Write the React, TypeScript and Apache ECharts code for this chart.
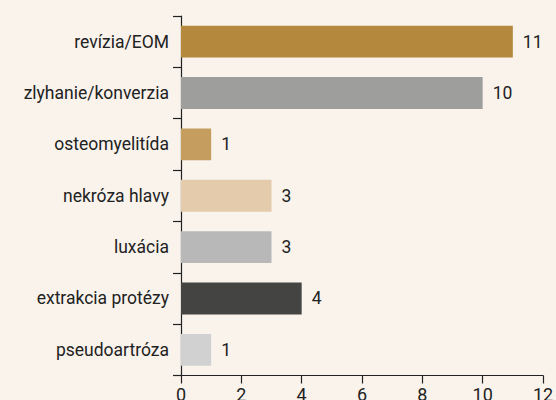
import React, { useEffect, useRef } from "react";
import * as echarts from "echarts";

const categories = [
  "revízia/EOM",
  "zlyhanie/konverzia",
  "osteomyelitída",
  "nekróza hlavy",
  "luxácia",
  "extrakcia protézy",
  "pseudoartróza",
];
const values = [11, 10, 1, 3, 3, 4, 1];
const barColors = ["#b4883d", "#9e9e9d", "#c49d5f", "#e3cbab", "#b8b8b8", "#444443", "#d1d1d1"];
const xTicks = { min: 0, max: 12, interval: 2 };

export default function App() {
  const ref = useRef<HTMLDivElement>(null);
  useEffect(() => {
    document.body.style.margin = "0";
    const chart = echarts.init(ref.current!, null, { renderer: "svg" });
    chart.setOption({
      animation: false,
      backgroundColor: "#f9f3ec",
      textStyle: { fontFamily: "Roboto" },
      grid: { left: 181, right: 13, top: 16, bottom: 24.5, containLabel: false, outerBoundsMode: "none" },
      xAxis: {
        type: "value",
        min: xTicks.min,
        max: xTicks.max,
        interval: xTicks.interval,
        splitLine: { show: false },
        axisLine: { show: true, lineStyle: { color: "#222", width: 1.2 } },
        axisTick: { show: true, length: 8, lineStyle: { color: "#222", width: 1.2 } },
        axisLabel: { color: "#222", fontSize: 18, margin: 10, hideOverlap: false },
      },
      yAxis: {
        type: "category",
        inverse: true,
        data: categories,
        axisLine: { show: true, lineStyle: { color: "#222", width: 1.2 } },
        axisTick: { show: true, length: 8, lineStyle: { color: "#222", width: 1.2 } },
        axisLabel: { color: "#222", fontSize: 17.5, margin: 12 },
      },
      series: [
        {
          type: "bar",
          barCategoryGap: "38%",
          data: values.map((v, i) => ({ value: v, itemStyle: { color: barColors[i] } })),
          label: { show: true, position: "right", distance: 10, color: "#222", fontSize: 17.5 },
        },
      ],
    });
    return () => chart.dispose();
  }, []);
  return <div ref={ref} style={{ width: 556, height: 400 }} />;
}
